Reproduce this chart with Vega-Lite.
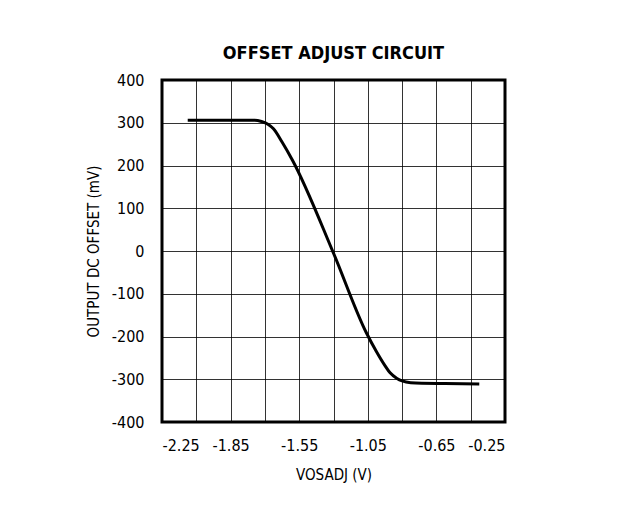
{
  "$schema": "https://vega.github.io/schema/vega-lite/v6.json",
  "width": 343,
  "height": 342,
  "autosize": "none",
  "padding": {"left": 162, "top": 80, "right": 127, "bottom": 84},
  "background": "white",
  "title": {
    "text": "OFFSET ADJUST CIRCUIT",
    "anchor": "middle",
    "font": "DejaVu Sans Condensed",
    "fontWeight": "bold",
    "fontSize": 18,
    "color": "black",
    "offset": 9
  },
  "config": {
    "view": {"stroke": "black", "strokeWidth": 3},
    "axis": {
      "labelFont": "DejaVu Sans Condensed",
      "titleFont": "DejaVu Sans Condensed",
      "labelFontSize": 16,
      "titleFontSize": 15,
      "labelColor": "black",
      "titleColor": "black",
      "titleFontWeight": "normal",
      "ticks": false,
      "domain": false,
      "grid": true,
      "gridColor": "black",
      "gridWidth": 1,
      "gridOpacity": 0.8
    }
  },
  "data": {
    "values": [
      {"v": -2.10, "mv": 306},
      {"v": -1.90, "mv": 306},
      {"v": -1.71, "mv": 306},
      {"v": -1.67, "mv": 303},
      {"v": -1.63, "mv": 296},
      {"v": -1.60, "mv": 286},
      {"v": -1.55, "mv": 255},
      {"v": -1.49, "mv": 213},
      {"v": -1.25, "mv": -5},
      {"v": -1.06, "mv": -190},
      {"v": -1.00, "mv": -235},
      {"v": -0.95, "mv": -268},
      {"v": -0.92, "mv": -285},
      {"v": -0.88, "mv": -298},
      {"v": -0.85, "mv": -304},
      {"v": -0.80, "mv": -308},
      {"v": -0.60, "mv": -310},
      {"v": -0.40, "mv": -311}
    ]
  },
  "mark": {"type": "line", "color": "black", "strokeWidth": 3, "interpolate": "monotone"},
  "encoding": {
    "x": {
      "field": "v",
      "type": "quantitative",
      "scale": {"domain": [-2.25, -0.25], "nice": false, "zero": false},
      "axis": {
        "title": "VOSADJ (V)",
        "values": [-2.25, -2.05, -1.85, -1.65, -1.45, -1.25, -1.05, -0.85, -0.65, -0.45, -0.25],
        "labelExpr": "abs(datum.value+2.25)<0.01?'-2.25':abs(datum.value+1.85)<0.01?'-1.85':abs(datum.value+1.45)<0.01?'-1.55':abs(datum.value+1.05)<0.01?'-1.05':abs(datum.value+0.65)<0.01?'-0.65':abs(datum.value+0.25)<0.01?'-0.25':''",
        "labelPadding": 15,
        "titlePadding": 14
      }
    },
    "y": {
      "field": "mv",
      "type": "quantitative",
      "scale": {"domain": [-400, 400], "nice": false, "zero": false},
      "axis": {
        "title": "OUTPUT DC OFFSET (mV)",
        "values": [-400, -300, -200, -100, 0, 100, 200, 300, 400],
        "labelExpr": "'' + datum.value",
        "labelPadding": 18,
        "titlePadding": 10
      }
    }
  }
}
